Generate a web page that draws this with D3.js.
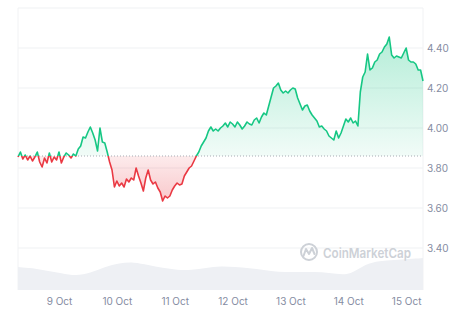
<!DOCTYPE html>
<html>
<head>
<meta charset="utf-8">
<script src="https://cdn.jsdelivr.net/npm/d3@7"></script>
<style>
  html, body { margin: 0; padding: 0; background: #fff; }
  svg { display: block; font-family: Inter, "Noto Sans", sans-serif; }
</style>
</head>
<body>
<svg id="chart" width="474" height="316"></svg>
<script>
// ---- data (hourly prices from 8 Oct 07:00 to 15 Oct 07:00) ----
const startTime = "2023-10-08T07:00:00";
const prices = [
  3.855,3.880,3.845,3.865,3.840,3.860,3.835,3.855,3.880,3.830,
  3.805,3.850,3.825,3.875,3.830,3.855,3.840,3.880,3.825,3.855,
  3.875,3.865,3.850,3.870,3.860,3.895,3.910,3.955,3.950,3.980,
  4.005,3.975,3.940,3.885,4.000,3.930,3.925,3.880,3.830,3.790,
  3.705,3.735,3.710,3.725,3.705,3.745,3.730,3.750,3.740,3.800,
  3.760,3.725,3.685,3.750,3.790,3.740,3.720,3.730,3.700,3.680,
  3.635,3.660,3.650,3.660,3.690,3.710,3.725,3.715,3.720,3.760,
  3.780,3.800,3.810,3.835,3.860,3.880,3.910,3.930,3.950,3.985,
  4.005,3.985,3.995,3.985,4.000,4.010,4.025,4.005,4.030,4.020,
  4.005,4.030,4.015,3.995,4.010,4.030,4.020,4.015,4.040,4.050,
  4.025,4.055,4.075,4.065,4.110,4.155,4.200,4.210,4.225,4.190,
  4.175,4.185,4.175,4.190,4.200,4.195,4.150,4.120,4.090,4.110,
  4.115,4.085,4.065,4.050,4.035,4.005,4.010,3.995,3.985,3.960,
  3.950,3.940,3.985,3.950,3.975,4.010,4.045,4.030,4.050,4.025,
  4.035,4.010,4.180,4.255,4.280,4.370,4.290,4.300,4.330,4.340,
  4.370,4.380,4.405,4.420,4.455,4.365,4.350,4.360,4.355,4.350,
  4.375,4.400,4.340,4.330,4.330,4.320,4.290,4.290,4.235
];
const basePrice = 3.86;
// 6-hourly volume (millions, approximate)
const volumes = [
  46,44,38,34,28,34,46,54,56,50,
  44,40,40,44,48,46,44,40,36,36,
  36,36,32,30,52,58,60,62,64
];
const yTicks = [3.40, 3.60, 3.80, 4.00, 4.20, 4.40];
const yGridExtra = [4.60];
const xTickDates = ["2023-10-09","2023-10-10","2023-10-11","2023-10-12","2023-10-13","2023-10-14","2023-10-15"];
const xTickLabels = ["9 Oct","10 Oct","11 Oct","12 Oct","13 Oct","14 Oct","15 Oct"];

// ---- build ----
const t0 = new Date(startTime);
const HOUR = 3600e3;
const priceData = prices.map((p, i) => ({ t: new Date(t0.getTime() + i * HOUR), v: p }));
const volData = volumes.map((v, i) => ({ t: new Date(t0.getTime() + i * 6 * HOUR), v }));

const svg = d3.select("#chart");
const left = 18, right = 423;

const x = d3.scaleTime()
  .domain([priceData[0].t, priceData[priceData.length - 1].t])
  .range([left, right]);
const y = d3.scaleLinear().domain([3.20, 4.60]).range([288, 8]);
const yv = d3.scaleLinear().domain([0, 100]).range([290, 240]);

const GREEN = "#16c784", RED = "#ea3943";
const yBase = y(basePrice);

const defs = svg.append("defs");
const gG = defs.append("linearGradient").attr("id", "gGreen")
  .attr("gradientUnits", "userSpaceOnUse").attr("x1", 0).attr("x2", 0)
  .attr("y1", y(4.46)).attr("y2", yBase);
gG.append("stop").attr("offset", 0).attr("stop-color", GREEN).attr("stop-opacity", 0.32);
gG.append("stop").attr("offset", 1).attr("stop-color", GREEN).attr("stop-opacity", 0.06);
const gR = defs.append("linearGradient").attr("id", "gRed")
  .attr("gradientUnits", "userSpaceOnUse").attr("x1", 0).attr("x2", 0)
  .attr("y1", yBase).attr("y2", y(3.63));
gR.append("stop").attr("offset", 0).attr("stop-color", RED).attr("stop-opacity", 0.10);
gR.append("stop").attr("offset", 1).attr("stop-color", RED).attr("stop-opacity", 0.28);

defs.append("clipPath").attr("id", "above").append("rect")
  .attr("x", 0).attr("y", 0).attr("width", 474).attr("height", yBase);
defs.append("clipPath").attr("id", "below").append("rect")
  .attr("x", 0).attr("y", yBase).attr("width", 474).attr("height", 316 - yBase);

// grid
const gridVals = yGridExtra.concat(yTicks);
svg.append("g").selectAll("line").data(gridVals).join("line")
  .attr("x1", left).attr("x2", right)
  .attr("y1", d => y(d)).attr("y2", d => y(d))
  .attr("stroke", "#eff1f3").attr("stroke-width", 1);
// vertical borders
svg.append("g").selectAll("line").data([left, right]).join("line")
  .attr("x1", d => d).attr("x2", d => d)
  .attr("y1", y(4.60)).attr("y2", 290)
  .attr("stroke", "#f1f2f4").attr("stroke-width", 1);

// volume
svg.append("path").datum(volData)
  .attr("d", d3.area().x(d => x(d.t)).y0(yv(0)).y1(d => yv(d.v)).curve(d3.curveBasis))
  .attr("fill", "#eef0f4");

// watermark
const wm = svg.append("g");
wm.append("circle").attr("cx", 309).attr("cy", 252).attr("r", 8)
  .attr("fill", "none").attr("stroke", "#cdd1d7").attr("stroke-width", 2);
wm.append("path").attr("d", "M303.5,256 L306,249 L309,254 L312,248 L314.5,254")
  .attr("fill", "none").attr("stroke", "#cdd1d7").attr("stroke-width", 2)
  .attr("stroke-linejoin", "round").attr("stroke-linecap", "round");
wm.append("text").attr("x", 323).attr("y", 257.5)
  .attr("font-size", 13.5).attr("font-weight", 600).attr("fill", "#cdd1d7")
  .attr("textLength", 88).attr("lengthAdjust", "spacingAndGlyphs")
  .text("CoinMarketCap");

// areas
const areaGen = d3.area().x(d => x(d.t)).y0(yBase).y1(d => y(d.v));
svg.append("path").datum(priceData).attr("d", areaGen)
  .attr("fill", "url(#gGreen)").attr("clip-path", "url(#above)");
svg.append("path").datum(priceData).attr("d", areaGen)
  .attr("fill", "url(#gRed)").attr("clip-path", "url(#below)");

// baseline dotted
svg.append("line").attr("x1", left).attr("x2", right)
  .attr("y1", yBase).attr("y2", yBase)
  .attr("stroke", "#a6abb3").attr("stroke-width", 1).attr("stroke-dasharray", "1,2");

// line
const lineGen = d3.line().x(d => x(d.t)).y(d => y(d.v));
svg.append("path").datum(priceData).attr("d", lineGen)
  .attr("fill", "none").attr("stroke", GREEN).attr("stroke-width", 1.6)
  .attr("stroke-linejoin", "round").attr("clip-path", "url(#above)");
svg.append("path").datum(priceData).attr("d", lineGen)
  .attr("fill", "none").attr("stroke", RED).attr("stroke-width", 1.6)
  .attr("stroke-linejoin", "round").attr("clip-path", "url(#below)");

// y axis
const yAxis = d3.axisRight(y).tickValues(yTicks).tickFormat(d3.format(".2f")).tickSize(0).tickPadding(0);
const gy = svg.append("g").attr("transform", `translate(427,0)`).call(yAxis);
gy.select(".domain").remove();
gy.selectAll("text").attr("font-size", 10).attr("fill", "#858ca2").attr("font-family", "Inter, sans-serif");

// x axis
const tickDates = xTickDates.map(s => new Date(s + "T00:00:00"));
const xAxis = d3.axisBottom(x).tickValues(tickDates)
  .tickFormat((d, i) => xTickLabels[i]).tickSize(0).tickPadding(0);
const gx = svg.append("g").attr("transform", `translate(0,298)`).call(xAxis);
gx.select(".domain").remove();
gx.selectAll("text").attr("font-size", 10).attr("fill", "#858ca2").attr("font-family", "Inter, sans-serif");
</script>
</body>
</html>
